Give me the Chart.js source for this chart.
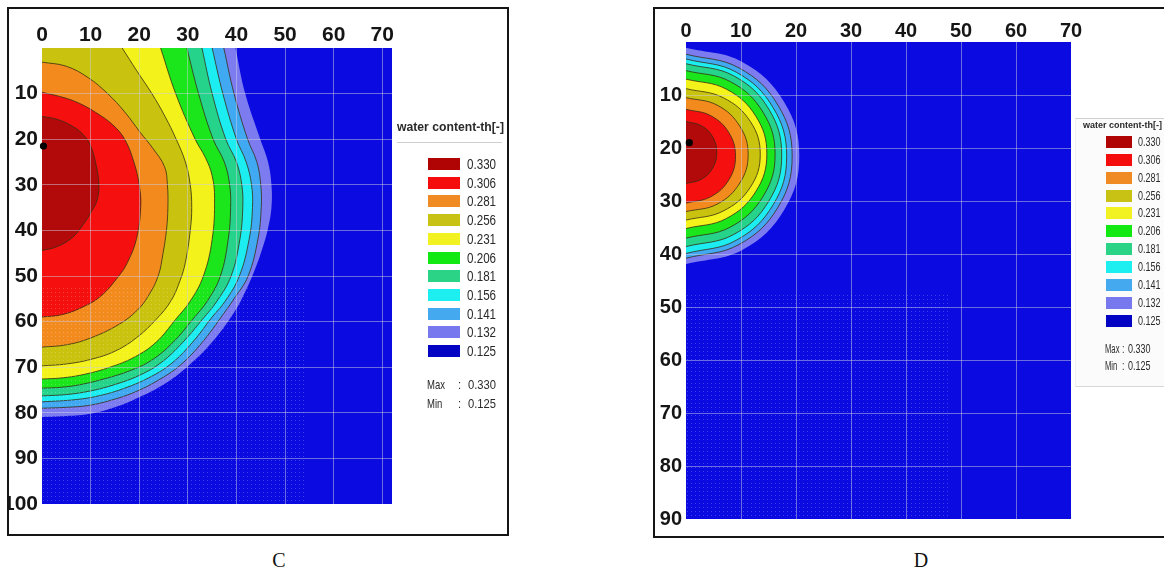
<!DOCTYPE html>
<html><head><meta charset="utf-8">
<script src="https://cdn.jsdelivr.net/npm/chart.js@4.4.1/dist/chart.umd.min.js"></script>
<style>
html,body{margin:0;padding:0;background:#fff;}
body{width:1164px;height:578px;overflow:hidden;position:relative;font-family:"Liberation Sans",Arial,sans-serif;}
.frame{position:absolute;border:2px solid #151515;box-sizing:border-box;}
canvas{position:absolute;}
.lg{position:absolute;left:0;top:0;}
.lg .title{position:absolute;font-weight:bold;white-space:nowrap;color:#2a2a2a;transform:translateY(-50%);}
.lg .sw{position:absolute;}
.lg .lab{position:absolute;white-space:nowrap;color:#2a2a2a;font-family:"Liberation Sans",Arial,sans-serif;transform-origin:left center;}
.lg .rule{position:absolute;height:1px;background:#cfcfcf;}
.cap{position:absolute;font-family:"Liberation Serif","Times New Roman",serif;font-size:20px;transform:translate(-50%,-50%);color:#111;}
</style></head><body>
<div class="frame" style="left:7px;top:7px;width:502px;height:529px;"></div>
<div class="frame" style="left:653px;top:7px;width:600px;height:531px;"></div>
<div id="panelD" style="position:absolute;left:1075px;top:118px;width:120px;height:267px;background:#fbfbfb;border-top:1px solid #d0d0d0;border-bottom:1px solid #d8d8d8;border-left:1px solid #eeeeee;"></div>
<canvas id="chartC" width="400" height="512" style="left:9px;top:9px;"></canvas>
<canvas id="chartD" width="435" height="527" style="left:656px;top:9px;"></canvas>
<div id="legC" class="lg"></div>
<div id="legD" class="lg"></div>
<div class="cap" style="left:279px;top:560px;">C</div>
<div class="cap" style="left:921px;top:560px;">D</div>
<script>
// ---------- data ----------
const legendTitle = 'water content-th[-]';
const levels = ['0.330','0.306','0.281','0.256','0.231','0.206','0.181','0.156','0.141','0.132','0.125'];
const maxMin = [['Max','0.330'],['Min','0.125']];

const xTicksC = [0,10,20,30,40,50,60,70];
const yTicksC = [10,20,30,40,50,60,70,80,90,100];
const xTicksD = [0,10,20,30,40,50,60,70];
const yTicksD = [10,20,30,40,50,60,70,80,90];

// contour boundaries [x, depth] (panel C)
const C330 = [[0,15],[3,15.6],[6,17],[8.5,19],[10,21.5],[11,25],[11.7,30],[11.3,33.5],[10.3,35.6],[8.5,38.7],[6.2,41.6],[3,43.6],[0,44.4]];
const C306 = [[0,9.7],[4.9,11],[8,12.3],[11,14.1],[14.5,16.8],[17,20],[18.9,25],[20,30],[20.3,35],[19.4,42],[17.6,47],[15.8,50],[12,54.5],[8,57],[4,58.5],[0,59]];
const C281 = [[0,3.1],[5,4],[9.5,6.5],[13.5,10],[17,14],[20.2,18.5],[22.8,22],[25.2,26],[25.8,30],[25.9,35],[25.6,40],[24.9,45],[23.9,50],[21.8,54.5],[19.6,57.5],[16,60.5],[10,63.6],[5,65.1],[0,65.6]];
const C256 = [[16.5,0],[19.5,5],[22.6,10],[25.3,15],[27.6,20],[29.5,25],[30.5,30],[30.8,35],[30.5,40],[29.5,47],[28.4,51],[26.5,55.5],[23.5,59.5],[19.5,63.5],[15,66.5],[10,68.3],[5,69.3],[0,69.7]];
const C231 = [[24.4,0],[27.5,10],[31.5,20],[33.6,24],[35,28],[35.5,33],[35,42],[33.2,50],[30.5,55.5],[27.5,59.5],[23.5,64.5],[19,67.8],[14,70],[9,71.5],[4.5,72.3],[0,72.6]];
const C206 = [[29.8,0],[32.2,10],[35.2,20],[37.5,25],[38.6,30],[38.8,35],[38.3,42],[36.7,50],[34,55.5],[31,59.5],[27,64.5],[22.5,68.5],[18,70.8],[13,72.5],[8,73.8],[4,74.4],[0,74.6]];
const C181 = [[32.9,0],[35,10],[37.8,20],[40,25],[41.1,30],[41.3,35],[40.7,42],[38.9,50],[36,55.5],[33,59.5],[29,64.5],[24.5,69],[20,71.8],[15,73.8],[10,75.2],[5,76],[0,76.3]];
const C156 = [[35,0],[37.2,10],[40,20],[42,25],[43.1,30],[43.3,35],[42.6,42],[40.6,50],[37.7,55.5],[35,59],[31,64.5],[26.5,69.3],[22,72.3],[17,74.6],[12,76.2],[7,77.1],[0,77.6]];
const C141 = [[37.4,0],[39.5,10],[42.3,20],[44.2,25],[45,30],[45.1,35],[44.4,42],[42.4,50],[39.5,55],[37.2,58.5],[33,64.5],[28.5,69.5],[24,72.8],[19,75.5],[14,77.3],[9.5,78.4],[5,78.8],[0,79]];
const C132 = [[39.8,0],[41.8,10],[44.9,20],[46.5,25],[47.2,30],[47.2,35],[46.4,40],[45.2,44.4],[44,48],[42,53],[39.5,58],[35,64.5],[30.2,69.6],[25,73.8],[20,76.6],[15,78.8],[10,80.2],[5,80.7],[0,80.9]];
const sourceC = [[0.3,21.5]];

// contour boundaries [x, depth] (panel D)
const D330 = [[0,15],[2.8,15.8],[4.85,17.9],[5.6,20.85],[4.85,23.8],[2.8,25.9],[0,26.7]];
const D306 = [[0,12.7],[4.5,13.9],[7.8,17.1],[9,21.55],[7.8,26],[4.5,29.2],[0,30.4]];
const D281 = [[0,10.5],[5.65,11.9],[9.79,15.9],[11.3,21.25],[9.79,26.6],[5.65,30.6],[0,32]];
const D256 = [[0,8.8],[6.75,10.5],[11.7,15],[13.5,21.2],[11.7,27.4],[6.75,31.9],[0,33.6]];
const D231 = [[0,7],[7.35,8.9],[12.73,14.05],[14.7,21.1],[12.73,28.15],[7.35,33.3],[0,35.2]];
const D206 = [[0,5.4],[8.1,7.5],[14.03,13.3],[16.2,21.2],[14.03,29.1],[8.1,34.9],[0,37]];
const D181 = [[0,4.1],[8.7,6.4],[15.07,12.7],[17.4,21.35],[15.07,30],[8.7,36.3],[0,38.6]];
const D156 = [[0,3.2],[9.15,5.7],[15.85,12.4],[18.3,21.55],[15.85,30.7],[9.15,37.4],[0,39.9]];
const D141 = [[0,2.3],[9.65,4.9],[16.71,11.9],[19.3,21.55],[16.71,31.2],[9.65,38.2],[0,40.8]];
const D132 = [[0,1.1],[10.3,3.8],[17.84,11.3],[20.6,21.5],[17.84,31.7],[10.3,39.2],[0,41.9]];
const sourceD = [[0.6,19]];

// refined-mesh zones (drawn as faint node dots): [xFrom, xTo, depthFrom, depthTo]
const meshC = [0, 54.5, 52.5, 100];
const meshD = [0, 48, 47.5, 90];

// ---------- styling ----------
const fillColors = ['#b20a0a','#f5100f','#f38a1d','#c9c30f','#f3f31b','#1be61b','#25d38b','#1cedf0','#41a8f2','#7c7cf0'];
const legendColors = ['#b00404','#f50c0c','#f08a22','#c8c214','#f2f222','#12e812','#2bd387','#1deef0','#44a9ef','#7878ee','#0303c3'];
const plotBlue = '#0b0be1';
const lineColor = 'rgba(55,45,20,0.8)';
const gridColor = 'rgba(205,205,225,0.5)';

Chart.defaults.font.family = '"Liberation Sans", Arial, sans-serif';

const bgPlugin = {
  id: 'plotBg',
  beforeDatasetsDraw(chart) {
    const {ctx, chartArea: a} = chart;
    ctx.save();
    ctx.fillStyle = plotBlue;
    ctx.fillRect(a.left, a.top, a.right - a.left, a.bottom - a.top);
    ctx.restore();
  },
  afterDatasetsDraw(chart, args, opts) {
    const m = opts.mesh;
    if (!m) return;
    const {ctx, scales: {x, y}} = chart;
    const x0 = x.getPixelForValue(m[0]), x1 = x.getPixelForValue(m[1]);
    const y0 = y.getPixelForValue(m[2]), y1 = y.getPixelForValue(m[3]);
    ctx.save();
    ctx.fillStyle = 'rgba(255,255,255,0.22)';
    for (let py = y0 + 1; py < y1 - 1; py += 4) {
      for (let px = x0 + 1; px < x1; px += 4) ctx.fillRect(Math.round(px), Math.round(py), 1, 1);
    }
    ctx.restore();
  }
};

function toPts(arr) { return arr.map(p => ({x: p[0], y: p[1]})); }

function makeDatasets(contours, source) {
  const ds = [{
    data: toPts(source), showLine: false, pointRadius: 3.6, pointBackgroundColor: '#000',
    pointBorderWidth: 0, clip: false, fill: false
  }];
  contours.forEach((arr, i) => {
    const outer = i === contours.length - 1;
    ds.push({
      data: toPts(arr), fill: 'origin', backgroundColor: fillColors[i],
      borderColor: outer ? 'rgba(0,0,0,0)' : lineColor, borderWidth: outer ? 0 : 1,
      tension: 0.4, pointRadius: 0
    });
  });
  return ds;
}

function makeChart(id, cfg) {
  const tickFont = {family: '"Liberation Sans", Arial, sans-serif', weight: 'bold', size: cfg.fontSize};
  return new Chart(document.getElementById(id), {
    type: 'line',
    data: {datasets: makeDatasets(cfg.contours, cfg.source)},
    plugins: [bgPlugin],
    options: {
      indexAxis: 'y', responsive: false, animation: false,
      layout: {padding: {right: cfg.padRight, bottom: cfg.padBottom, left: 0, top: 0}},
      plugins: {legend: {display: false}, tooltip: {enabled: false}, plotBg: {mesh: cfg.mesh}},
      scales: {
        x: {
          type: 'linear', position: 'top', min: 0, max: cfg.xMax,
          afterFit(s) { s.height = cfg.xAxisH; },
          afterBuildTicks(s) { s.ticks = cfg.xTicks.map(v => ({value: v})); },
          ticks: {font: tickFont, color: '#151515', padding: cfg.xPad, autoSkip: false, maxRotation: 0, callback: v => String(v)},
          grid: {z: 1, drawTicks: false, lineWidth: 1, color: c => (c.tick && (c.tick.value === 0 || c.tick.value === cfg.xMax)) ? 'rgba(0,0,0,0)' : gridColor},
          border: {display: false}
        },
        y: {
          type: 'linear', reverse: true, min: 0, max: cfg.yMax,
          afterFit(s) { s.width = cfg.yAxisW; },
          afterBuildTicks(s) { s.ticks = cfg.yTicks.map(v => ({value: v})); },
          ticks: {font: tickFont, color: '#151515', padding: 4, autoSkip: false, callback: v => String(v)},
          grid: {z: 1, drawTicks: false, lineWidth: 1, color: c => (c.tick && c.tick.value === cfg.yMax) ? 'rgba(0,0,0,0)' : gridColor},
          border: {display: false}
        }
      }
    }
  });
}

makeChart('chartC', {
  contours: [C330, C306, C281, C256, C231, C206, C181, C156, C141, C132], source: sourceC, mesh: meshC,
  xTicks: xTicksC, yTicks: yTicksC, xMax: 72, yMax: 100, fontSize: 21,
  xAxisH: 39, yAxisW: 33, padRight: 17, padBottom: 17, xPad: 0
});
makeChart('chartD', {
  contours: [D330, D306, D281, D256, D231, D206, D181, D156, D141, D132], source: sourceD, mesh: meshD,
  xTicks: xTicksD, yTicks: yTicksD, xMax: 70, yMax: 90, fontSize: 20,
  xAxisH: 33, yAxisW: 30, padRight: 20, padBottom: 17, xPad: -1
});

// ---------- legends ----------
function buildLegend(id, L) {
  const el = document.getElementById(id);
  let h = '';
  h += `<div class="title" style="left:${L.titleX}px;top:${L.titleY}px;font-size:${L.titleSize}px">${legendTitle}</div>`;
  if (L.ruleY) h += `<div class="rule" style="left:${L.titleX}px;top:${L.ruleY}px;width:${L.ruleW}px"></div>`;
  const tf = `transform:translateY(-50%) scaleX(${L.sx})`;
  levels.forEach((lv, i) => {
    const cy = L.y0 + i * L.dy;
    h += `<div class="sw" style="left:${L.swX}px;top:${(cy - L.swH / 2).toFixed(1)}px;width:${L.swW}px;height:${L.swH}px;background:${legendColors[i]}"></div>`;
    h += `<div class="lab" style="left:${L.labX}px;top:${cy.toFixed(1)}px;font-size:${L.labSize}px;${tf}">${lv}</div>`;
  });
  maxMin.forEach((r, i) => {
    const cy = L.mmY + i * L.mmDy;
    h += `<div class="lab" style="left:${L.mmX[0]}px;top:${cy}px;font-size:${L.mmSize}px;transform:translateY(-50%) scaleX(${L.sx * 0.85})">${r[0]}</div>`;
    h += `<div class="lab" style="left:${L.mmX[1]}px;top:${cy}px;font-size:${L.mmSize}px;${tf}">:</div>`;
    h += `<div class="lab" style="left:${L.mmX[2]}px;top:${cy}px;font-size:${L.mmSize}px;${tf}">${r[1]}</div>`;
  });
  el.innerHTML = h;
}
buildLegend('legC', {titleX: 397, titleY: 127, titleSize: 12.2, ruleY: 142, ruleW: 105,
  y0: 164, dy: 18.7, swX: 428, swW: 32, swH: 12, labX: 467, labSize: 14, sx: 0.83,
  mmY: 384, mmDy: 19, mmX: [427, 458, 468], mmSize: 13.5});
buildLegend('legD', {titleX: 1083, titleY: 125, titleSize: 9, ruleY: 0, ruleW: 0,
  y0: 142, dy: 17.85, swX: 1106, swW: 26, swH: 12, labX: 1138, labSize: 12.5, sx: 0.72,
  mmY: 349, mmDy: 17, mmX: [1105, 1122, 1128], mmSize: 12.5});
</script>
</body></html>
